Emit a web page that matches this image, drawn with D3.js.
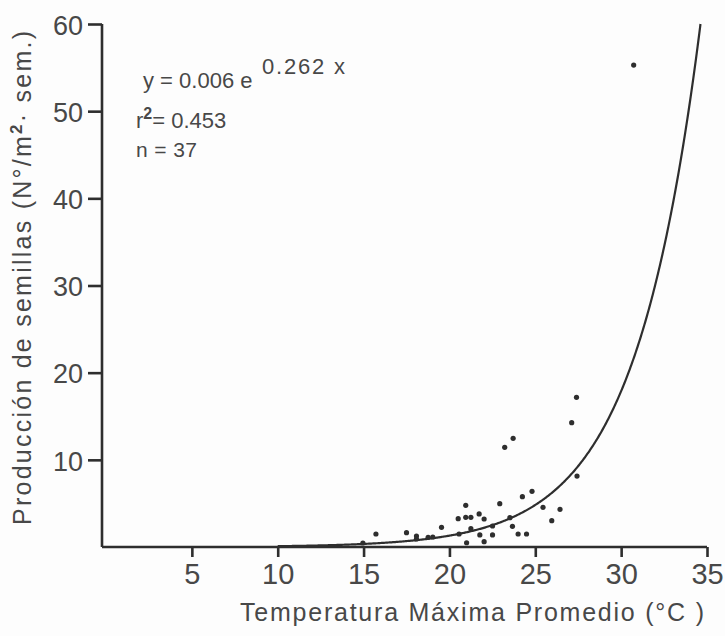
<!DOCTYPE html>
<html>
<head>
<meta charset="utf-8">
<script src="https://cdn.jsdelivr.net/npm/d3@7"></script>
<style>
  html, body { margin: 0; padding: 0; background: #fdfdfd; }
  svg { display: block; }
</style>
</head>
<body>
<svg id="chart" width="725" height="636"></svg>
<script>
// ---- data ----
const tempMax = [15.72, 17.50, 18.08, 18.76, 19.54, 20.51, 20.56, 20.95, 20.95, 21.25,
                 21.25, 21.00, 21.73, 22.02, 21.77, 22.02, 22.51, 22.51, 22.93, 23.22,
                 23.71, 23.52, 23.67, 24.00, 24.49, 24.25, 24.81, 25.45, 25.96, 26.44,
                 27.12, 27.40, 27.43, 30.73, 14.96, 19.03, 18.08];
const seedProd = [1.49, 1.64, 1.26, 1.11, 2.26, 3.25, 1.49, 4.78, 3.41, 3.41,
                  2.10, 0.49, 3.79, 3.21, 1.38, 0.61, 2.41, 1.38, 4.97, 11.44,
                  12.47, 3.36, 2.37, 1.49, 1.49, 5.77, 6.39, 4.55, 3.02, 4.32,
                  14.26, 17.17, 8.14, 55.29, 0.46, 1.15, 0.92];
const xTicks = [5, 10, 15, 20, 25, 30, 35];
const yTicks = [10, 20, 30, 40, 50, 60];
// fitted curve as printed: y = 0.006 e^(0.262 x); drawn curve
const fitA = 0.006, fitB = 0.262, fitR2 = 0.453, fitN = 37;
const drawnA = 0.0069;
const curveStart = 10;

const svg = d3.select("#chart");
const ink = "#2e2e2e", textInk = "#484848";

const x = d3.scaleLinear().domain([0, 35]).range([106, 707]);
const y = d3.scaleLinear().domain([0, 60]).range([547, 24]);
const axisX0 = x(0) - 4;

// y axis
const gy = svg.append("g").attr("transform", `translate(${axisX0},0)`)
  .call(d3.axisLeft(y).tickValues(yTicks).tickSize(14).tickSizeOuter(0).tickPadding(5));
gy.select(".domain").attr("d", `M0,${y(0)}V${y(60)}`);
// x axis
const gx = svg.append("g").attr("transform", `translate(0,${y(0)})`)
  .call(d3.axisBottom(x).tickValues(xTicks).tickSize(10).tickSizeOuter(0).tickPadding(6));
gx.select(".domain").attr("d", `M${axisX0},0H${x(35)}`);

[gx, gy].forEach(g => {
  g.selectAll(".domain").attr("stroke", ink).attr("stroke-width", 2.6).attr("fill", "none");
  g.selectAll(".tick line").attr("stroke", ink).attr("stroke-width", 2.6);
  g.selectAll(".tick text").attr("fill", textInk)
    .style("font-family", "'Liberation Sans Narrow', 'Liberation Sans', sans-serif");
});
gy.selectAll(".tick text").style("font-size", "27px").attr("dy", "0.38em");
gx.selectAll(".tick text").style("font-size", "29px");

// fitted curve
const xEnd = Math.log(60 / drawnA) / fitB;
const curvePts = d3.range(curveStart, xEnd, 0.05).concat([xEnd]).map(t => [t, drawnA * Math.exp(fitB * t)]);
svg.append("path")
  .datum(curvePts)
  .attr("fill", "none").attr("stroke", ink).attr("stroke-width", 2.2)
  .attr("d", d3.line().x(d => x(d[0])).y(d => y(d[1])));

// points
svg.append("g").selectAll("circle")
  .data(tempMax.map((t, i) => [t, seedProd[i]]))
  .join("circle")
  .attr("cx", d => x(d[0])).attr("cy", d => y(d[1])).attr("r", 2.6)
  .attr("fill", ink);

// annotations
const fontMain = "'Liberation Sans', sans-serif";
const eq = svg.append("text").attr("x", 143).attr("y", 88)
  .attr("fill", textInk).style("font-family", fontMain).style("font-size", "22px");
eq.append("tspan").text(`y = ${fitA} e`);
svg.append("text").attr("x", 262).attr("y", 74)
  .attr("fill", textInk).style("font-family", fontMain).style("font-size", "22px")
  .attr("textLength", 83).attr("lengthAdjust", "spacing")
  .text(`${fitB} x`);

const r2 = svg.append("text").attr("x", 136).attr("y", 128)
  .attr("fill", textInk).style("font-family", fontMain).style("font-size", "22px");
r2.append("tspan").text("r");
r2.append("tspan").attr("dy", -9).style("font-size", "16px").style("font-weight", "bold").text("2");
r2.append("tspan").attr("dy", 9).text(`= ${fitR2}`);

svg.append("text").attr("x", 136).attr("y", 157)
  .attr("fill", textInk).style("font-family", fontMain).style("font-size", "21px")
  .attr("textLength", 61).attr("lengthAdjust", "spacing")
  .text(`n = ${fitN}`);

// axis titles
svg.append("text").attr("x", 472).attr("y", 621).attr("text-anchor", "middle")
  .attr("fill", textInk).style("font-family", fontMain).style("font-size", "25px")
  .attr("textLength", 464).attr("lengthAdjust", "spacing")
  .text("Temperatura  Máxima  Promedio (°C )");

const yt = svg.append("text")
  .attr("transform", "translate(31,278) rotate(-90)").attr("text-anchor", "middle")
  .attr("fill", textInk).style("font-family", fontMain).style("font-size", "25px")
  .attr("textLength", 494).attr("lengthAdjust", "spacing");
yt.append("tspan").text("Producción de semillas (N°/m");
yt.append("tspan").attr("dy", -9).style("font-size", "17px").style("font-weight", "bold").text("2");
yt.append("tspan").attr("dy", 9).text("· sem.)");
</script>
</body>
</html>
